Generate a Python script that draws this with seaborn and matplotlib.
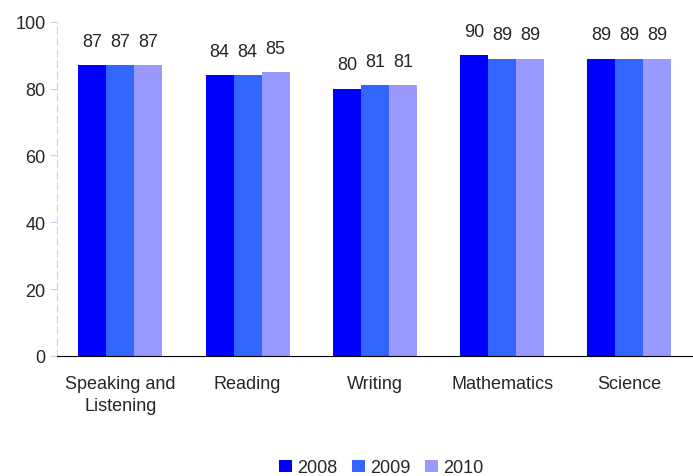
import matplotlib
matplotlib.use("Agg")
import matplotlib.pyplot as plt
import seaborn as sns
import pandas as pd

subjects = ["Speaking and\nListening", "Reading", "Writing", "Mathematics", "Science"]
years = ["2008", "2009", "2010"]
v2008 = [87, 84, 80, 90, 89]
v2009 = [87, 84, 81, 89, 89]
v2010 = [87, 85, 81, 89, 89]
colors = ["#0000FF", "#3366FF", "#9999FF"]

rows = []
for yr, vals in zip(years, [v2008, v2009, v2010]):
    for s, v in zip(subjects, vals):
        rows.append({"subject": s, "year": yr, "value": v})
df = pd.DataFrame(rows)

sns.set_style("white")
plt.rcParams["font.family"] = ["Liberation Sans", "DejaVu Sans"]

fig = plt.figure(figsize=(6.93, 4.77), dpi=100)
ax = fig.add_axes([0.082, 0.252, 0.918, 0.70])
sns.barplot(data=df, x="subject", y="value", hue="year", palette=colors,
            width=0.66, gap=0, saturation=1, ax=ax, errorbar=None, linewidth=0)

for c in ax.containers:
    ax.bar_label(c, fmt="%d", padding=11, fontsize=13)

ax.set_ylim(0, 100)
ax.set_yticks(range(0, 101, 20))
ax.set_xlim(-0.5, 4.5)
ax.set_xlabel("")
ax.set_ylabel("")
ax.tick_params(axis="y", labelsize=13, length=5, color="#D0D0F0", left=True, pad=3)
ax.tick_params(axis="x", labelsize=13, length=0, pad=14)
for lbl in ax.get_xticklabels():
    lbl.set_linespacing(1.4)
for s in ["top", "right"]:
    ax.spines[s].set_visible(False)
ax.spines["left"].set_color("#D0D0F0")
ax.spines["left"].set_linestyle((0, (6, 4)))
ax.spines["bottom"].set_color("black")

handles, labels = ax.get_legend_handles_labels()
ax.legend(handles, labels, loc="center", bbox_to_anchor=(0.51, -0.335), ncol=3,
          frameon=False, fontsize=13, handlelength=0.7, handleheight=0.7,
          handletextpad=0.3, columnspacing=0.8)

fig.savefig("out.png", dpi=100)
